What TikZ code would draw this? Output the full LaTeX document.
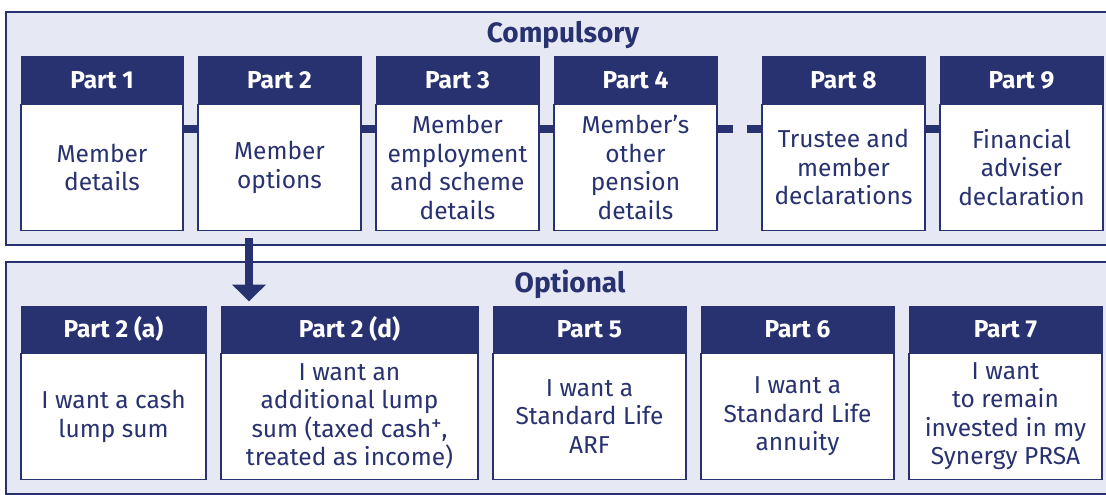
\documentclass[tikz,border=0pt]{standalone}
\usepackage{fontspec}
\setmainfont{Fira Sans}
\usetikzlibrary{arrows.meta}
\definecolor{navy}{RGB}{40,50,112}
\definecolor{bgc}{RGB}{230,232,244}
\newcommand\mkpart[6]{%
  \pgfmathsetmacro\cx{(#2+#3)/2}\pgfmathsetmacro\ww{#3-#2}%
  \node[hdr, minimum width=\ww pt] (#1h) at (\cx,#4+23) {#5};
  \node[bdy, minimum width=\ww pt, anchor=north] (#1) at (#1h.south) {#6};
}
\newcommand\plussup{\raisebox{7pt}{\fontsize{21}{21}\selectfont +}}
\begin{document}
\begin{tikzpicture}[x=1pt,y=-1pt,
  hdr/.style={fill=navy, draw=navy, line width=1pt, minimum height=46pt, inner sep=0pt,
    text=white, font=\bfseries\fontsize{24.5}{28}\selectfont},
  bdy/.style={fill=white, draw=navy, line width=1.2pt, minimum height=126.5pt, inner sep=0pt,
    text=navy, align=center, font=\fontsize{24.5}{28.5}\selectfont},
  ttl/.style={text=navy, inner sep=0pt, font=\bfseries\fontsize{28}{32}\selectfont},
  link/.style={draw=navy, line width=8pt},
  dlink/.style={link, dash pattern=on 15pt off 14pt},
  bigarrow/.style={draw=navy, line width=8pt, -{Triangle[width=33pt,length=17pt]}, navy}]
\useasboundingbox (0,0) rectangle (1106,495);
% containers
\fill[bgc] (6,12) rectangle (1106,245);
\draw[navy, line width=1.3pt] (1110,12) -- (6,12) -- (6,245) -- (1110,245);
\fill[bgc] (6,262) rectangle (1106,494);
\draw[navy, line width=1.3pt] (1110,262) -- (6,262) -- (6,494) -- (1110,494);
\node[ttl] (tc) at (563,35) {Compulsory};
\node[ttl] (to) at (570,284) {Optional};
% top row
\mkpart{p1}{21}{183}{57}{Part 1}{Member\\details}
\mkpart{p2}{198}{361}{57}{Part 2}{Member\\options}
\mkpart{p3}{376}{539}{57}{Part 3}{Member\\employment\\and scheme\\details}
\mkpart{p4}{554}{717}{57}{Part 4}{Member’s\\other\\pension\\details}
\mkpart{p8}{762}{925}{57}{Part 8}{Trustee and\\member\\declarations}
\mkpart{p9}{940}{1103}{57}{Part 9}{Financial\\adviser\\declaration}
% bottom row
\mkpart{q2a}{21}{206}{306}{Part 2 (a)}{I want a cash\\lump sum}
\mkpart{q2d}{221}{478}{306}{Part 2 (d)}{I want an\\additional lump\\sum (taxed cash\plussup,\\treated as income)}
\mkpart{q5}{493}{686}{306}{Part 5}{I want a\\Standard Life\\ARF}
\mkpart{q6}{701}{894}{306}{Part 6}{I want a\\Standard Life\\annuity}
\mkpart{q7}{909}{1102}{306}{Part 7}{I want\\to remain\\invested in my\\Synergy PRSA}
% links
\draw[link] ([yshift=-25pt]p1.north east) -- ([yshift=-25pt]p2.north west);
\draw[link] ([yshift=-25pt]p2.north east) -- ([yshift=-25pt]p3.north west);
\draw[link] ([yshift=-25pt]p3.north east) -- ([yshift=-25pt]p4.north west);
\draw[dlink] ([yshift=-25pt]p4.north east) -- ([yshift=-25pt]p8.north west);
\draw[link] ([yshift=-25pt]p8.north east) -- ([yshift=-25pt]p9.north west);
% arrow
\draw[bigarrow] ([xshift=-30.5pt,yshift=-7pt]p2.south) -- ([xshift=-100.5pt,yshift=4pt]q2dh.north);
\end{tikzpicture}
\end{document}
